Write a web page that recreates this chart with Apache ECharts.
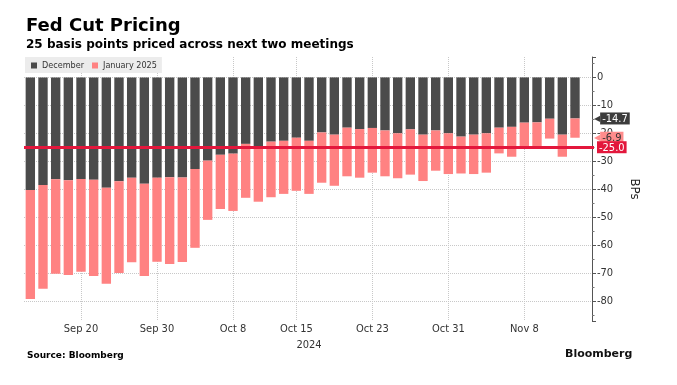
<!DOCTYPE html>
<html><head><meta charset="utf-8">
<script src="https://cdn.jsdelivr.net/npm/echarts@6/dist/echarts.min.js"></script>
<style>html,body{margin:0;padding:0;background:#fff}#c{width:677px;height:385px}</style>
</head><body><div id="c"></div>
<script>
// ---- data ----
const categories = [
  'Sep 16','Sep 17','Sep 18','Sep 19','Sep 20','Sep 23','Sep 24','Sep 25','Sep 26','Sep 27','Sep 30',
  'Oct 1','Oct 2','Oct 3','Oct 4','Oct 7','Oct 8','Oct 9','Oct 10','Oct 11','Oct 14','Oct 15','Oct 16',
  'Oct 17','Oct 18','Oct 21','Oct 22','Oct 23','Oct 24','Oct 25','Oct 28','Oct 29','Oct 30','Oct 31',
  'Nov 1','Nov 4','Nov 5','Nov 6','Nov 7','Nov 8','Nov 11','Nov 12','Nov 13','Nov 14','Nov 15'
];
const tickLabels = ['Sep 20','Sep 30','Oct 8','Oct 15','Oct 23','Oct 31','Nov 8'];
const december = [
  -40.3,-38.5,-36.5,-36.8,-36.4,-36.6,-39.5,-37.2,-35.9,-38.1,-35.9,-35.7,-35.8,-32.8,-29.8,-27.7,
  -27.3,-23.8,-25.2,-23.0,-22.7,-21.6,-22.7,-19.7,-20.5,-18.0,-18.5,-18.1,-19.0,-20.0,-18.6,-20.5,
  -19.0,-20.0,-21.2,-20.5,-20.0,-18.0,-17.7,-16.2,-16.1,-14.8,-20.5,-14.7
];
const january = [
  -39.0,-37.2,-33.8,-33.9,-33.2,-34.5,-34.4,-32.8,-30.3,-33.0,-30.1,-31.1,-30.3,-28.2,-21.2,-19.4,
  -20.5,-19.3,-19.3,-19.9,-19.0,-19.0,-19.0,-18.0,-18.3,-17.4,-17.4,-16.0,-16.4,-16.1,-16.2,-16.6,
  -14.4,-14.6,-13.2,-14.1,-14.1,-9.2,-10.7,-9.1,-8.9,-7.1,-7.9,-6.9
];
const referenceLevel = -25;
const yearLabel = '2024';

// ---- styling ----
const FONT = "'DejaVu Sans Condensed','DejaVu Sans',sans-serif";
const DARK = '#4b4b4b', PINK = '#ff8282', RED = '#e3173c';

const last = december.length - 1;
const decLast = december[last];
const janLast = january[last];
const totalLast = decLast + janLast;

function tag(text, bg, fg, arrow) {
  return {
    show: true, position: 'end', distance: arrow ? 0 : 3,
    formatter: (arrow ? '{a|◀}' : '') + '{b|' + text + '}',
    rich: {
      a: {color: bg, fontSize: 8, fontFamily: 'DejaVu Sans', padding: [0, 0, 0, 0]},
      b: {backgroundColor: bg, color: fg, fontSize: 11, fontFamily: FONT, padding: [1, 2, 0, 2], lineHeight: 12}
    }
  };
}
const hiddenLine = {color: 'rgba(0,0,0,0)', width: 0, type: 'solid'};

const chart = echarts.init(document.getElementById('c'), null, {renderer: 'canvas'});
chart.setOption({
  animation: false,
  backgroundColor: '#fff',
  grid: {left: 24, right: 83, top: 57, bottom: 64, containLabel: false},
  legend: {
    left: 25, top: 57, backgroundColor: '#ececec', padding: [4, 5, 3, 6],
    itemGap: 8, itemWidth: 6, itemHeight: 6, icon: 'rect',
    textStyle: {fontSize: 9, color: '#333', fontFamily: FONT},
    data: ['December', 'January 2025']
  },
  xAxis: {
    type: 'category', data: categories, boundaryGap: true,
    axisLine: {show: false}, axisTick: {show: false},
    axisLabel: {
      interval: (i, v) => tickLabels.includes(v), margin: 3,
      color: '#333', fontSize: 11, fontFamily: FONT
    },
    splitLine: {
      show: true, alignWithLabel: true, interval: (i, v) => tickLabels.includes(v),
      lineStyle: {color: '#c8c8c8', type: 'dotted'}
    },
    name: yearLabel, nameLocation: 'middle', nameGap: 14,
    nameTextStyle: {color: '#333', fontSize: 11, fontFamily: FONT}
  },
  yAxis: {
    type: 'value', position: 'right', offset: -2,
    min: -87.2, max: 7.3, splitNumber: 9,
    axisLine: {show: true, lineStyle: {color: '#555'}},
    axisTick: {show: true, length: 4, lineStyle: {color: '#555'}},
    minorTick: {show: true, splitNumber: 2, length: 2.5, lineStyle: {color: '#777'}},
    axisLabel: {
      margin: 5, color: '#333', fontSize: 11, fontFamily: FONT,
      showMinLabel: false, showMaxLabel: false,
      formatter: v => (Math.abs(v % 10) < 1e-6) ? String(Math.round(v)) : ''
    },
    splitLine: {show: true, showMinLine: false, showMaxLine: false,
      lineStyle: {color: '#c8c8c8', type: 'dotted'}},
    name: 'BPs', nameLocation: 'middle', nameRotate: -90, nameGap: 36,
    nameTextStyle: {color: '#222', fontSize: 13, fontFamily: FONT}
  },
  series: [
    {
      name: 'December', type: 'bar', stack: 'bps', data: december,
      barWidth: '74%', itemStyle: {color: DARK}, silent: true,
      markLine: {
        silent: true, symbol: 'none',
        lineStyle: hiddenLine,
        data: [{yAxis: decLast, lineStyle: hiddenLine, label: tag(decLast.toFixed(1), '#3c3c3c', '#fff', true)}]
      }
    },
    {
      name: 'January 2025', type: 'bar', stack: 'bps', data: january,
      barWidth: '74%', itemStyle: {color: PINK}, silent: true,
      markLine: {
        silent: true, symbol: 'none',
        data: [
          {yAxis: totalLast, lineStyle: hiddenLine, label: tag(janLast.toFixed(1), '#ff8c8c', '#333', true)},
          {yAxis: referenceLevel, lineStyle: {color: RED, width: 3, type: 'solid', opacity: 1},
            label: tag(referenceLevel.toFixed(1), RED, '#fff', false)}
        ]
      }
    }
  ],
  graphic: [
    {type: 'text', x: 26, y: 26.7, style: {text: 'Fed Cut Pricing', font: "bold 18px 'DejaVu Sans'", fill: '#000', align: 'left', verticalAlign: 'middle'}},
    {type: 'text', x: 26, y: 44.8, style: {text: '25 basis points priced across next two meetings', font: "bold 12px 'DejaVu Sans'", fill: '#000', align: 'left', verticalAlign: 'middle'}},
    {type: 'text', x: 27, y: 355.7, style: {text: 'Source: Bloomberg', font: "bold 9px 'DejaVu Sans'", fill: '#000', align: 'left', verticalAlign: 'middle'}},
    {type: 'text', x: 565, y: 354, style: {text: 'Bloomberg', font: "bold 11px 'DejaVu Sans'", fill: '#111', align: 'left', verticalAlign: 'middle'}}
  ]
});
</script>
</body></html>
